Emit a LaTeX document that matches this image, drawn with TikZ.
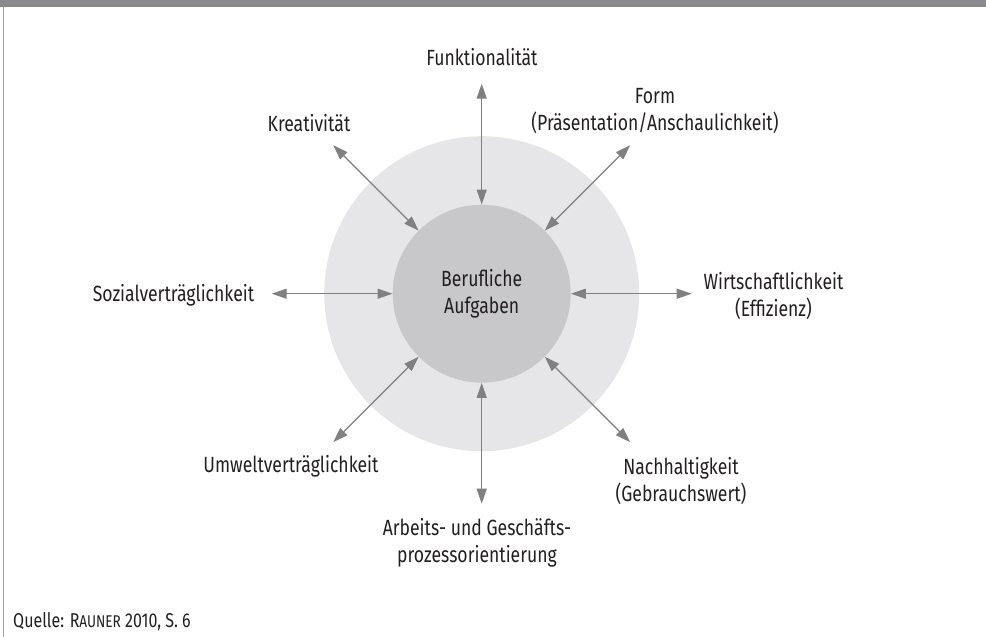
\documentclass[tikz,border=0pt]{standalone}
\usepackage{fontspec}
\setmainfont{Fira Sans}[FakeStretch=0.8]
\usetikzlibrary{arrows.meta,calc}
\definecolor{bargray}{HTML}{8A8A8E}
\definecolor{framegray}{HTML}{A0A0A2}
\definecolor{ringgray}{HTML}{E6E6E8}
\definecolor{coregray}{HTML}{C8C8CA}
\definecolor{linkgray}{HTML}{808083}
\definecolor{ink}{HTML}{231F20}
\tikzset{
  disc/.style={circle, inner sep=0pt},
  label text/.style={text=ink, align=center, inner sep=0pt},
  link/.style={draw=linkgray, line width=1.2pt,
    {Triangle[length=15pt,width=10pt,fill=linkgray]}-{Triangle[length=15pt,width=10pt,fill=linkgray]}},
}
\begin{document}
\begin{tikzpicture}[x=1pt, y=-1pt, font=\fontsize{22}{27}\selectfont]
\useasboundingbox (0,0) rectangle (986,637);
% header bar and left frame line
\fill[bargray] (0,0) rectangle (986,7);
\draw[framegray, line width=1.5pt] (3.5,7) -- (3.5,637);

% central discs
\coordinate (c) at (481.7,293.7);
\node[disc, fill=ringgray, minimum size=315pt] (ring) at (c) {};
\node[disc, fill=coregray, minimum size=178pt, label text] (core) at (c) {Berufliche\\Aufgaben};

% outer ends of the eight arrows
\foreach \a in {0,45,...,315} {
  \coordinate (e\a) at ($(c)+(\a:210pt)$);
  \draw[link] (core.\a) -- (e\a);
}

% criteria
\node[label text] (fun)    at (482,57)    {Funktionalität};
\node[label text] (form)   at (655,111)   {Form\\(Präsentation/Anschaulichkeit)};
\node[label text] (krea)   at (309,123)   {Kreativität};
\node[label text] (sozial) at (173.5,295) {Sozialverträglichkeit};
\node[label text] (wirt)   at (773.5,296) {Wirtschaftlichkeit\\(Effizienz)};
\node[label text] (umwelt) at (291,466)   {Umweltverträglichkeit};
\node[label text] (nach)   at (681,481)   {Nachhaltigkeit\\(Gebrauchswert)};
\node[label text] (arbeit) at (477,542.5) {Arbeits- und Geschäfts-\\prozessorientierung};

% source line
\node[label text, anchor=west, font=\fontsize{20}{24}\selectfont] (quelle) at (13,622)
  {Quelle: R{\fontsize{17}{20}\selectfont AUNER} 2010, S. 6};
\end{tikzpicture}
\end{document}
